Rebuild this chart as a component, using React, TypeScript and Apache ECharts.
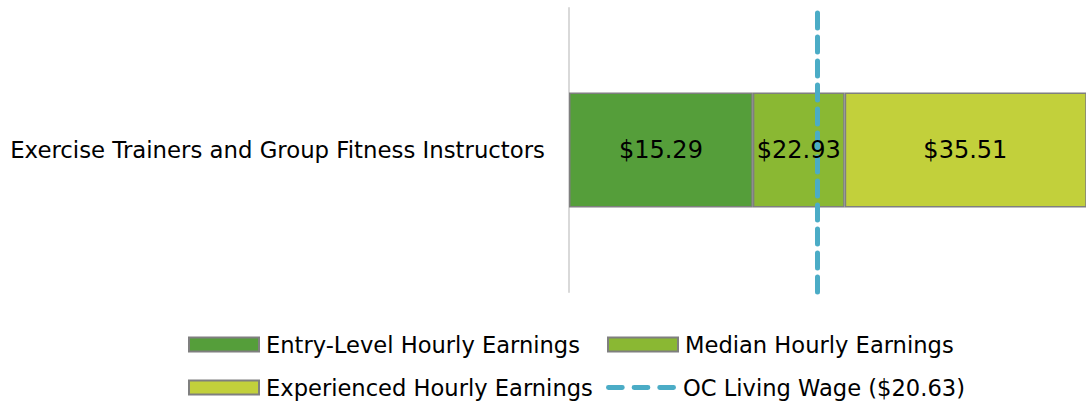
import React, { useEffect, useRef } from "react";
import * as echarts from "echarts";

const categories = ["Exercise Trainers and Group Fitness Instructors"];
const entryLevel = [15.29];
const median = [22.93];
const experienced = [35.51];
const livingWage = 20.63;
const seriesNames = [
  "Entry-Level Hourly Earnings",
  "Median Hourly Earnings",
  "Experienced Hourly Earnings",
  "OC Living Wage ($20.63)",
];
const colors = ["#559e3a", "#8ab833", "#c2d03b", "#4bacc6"];

const FONT = "DejaVu Sans";
const dashIcon =
  "path://M2.5 0h14a2.5 2.5 0 0 1 0 5h-14a2.5 2.5 0 0 1 0-5z" +
  "M28.5 0h14a2.5 2.5 0 0 1 0 5h-14a2.5 2.5 0 0 1 0-5z" +
  "M54.5 0h14a2.5 2.5 0 0 1 0 5h-14a2.5 2.5 0 0 1 0-5z";

export default function App() {
  const ref = useRef<HTMLDivElement>(null);
  useEffect(() => {
    if (!ref.current) return;
    const chart = echarts.init(ref.current, null, { renderer: "svg" });
    const money = (arr: number[]) => (p: any) => "$" + arr[p.dataIndex].toFixed(2);
    const segments = [
      entryLevel,
      median.map((v, i) => +(v - entryLevel[i]).toFixed(2)),
      experienced.map((v, i) => +(v - entryLevel[i]).toFixed(2)),
    ];
    const labelArrays = [entryLevel, median, experienced];
    const bars = segments.map((seg, k) => ({
      type: "bar",
      stack: "total",
      barWidth: "40.5%",
      name: seriesNames[k],
      data: seg,
      z: 2,
      itemStyle: { color: colors[k], borderColor: "#7f7f7f", borderWidth: 1.5 },
      label: { show: false },
    }));
    const labelBars = segments.map((seg, k) => ({
      type: "bar",
      stack: "labels",
      barWidth: "40.5%",
      barGap: "-100%",
      name: "lbl" + k,
      data: seg,
      z: 5,
      silent: true,
      itemStyle: { color: "rgba(0,0,0,0)", borderWidth: 0 },
      label: {
        show: true,
        position: "inside",
        color: "#000",
        fontFamily: FONT,
        fontSize: 24,
        formatter: money(labelArrays[k]),
      },
    }));
    const legendBase = {
      itemWidth: 70,
      itemHeight: 14,
      itemGap: 0,
      padding: 0,
      icon: "rect",
      textStyle: { fontFamily: FONT, fontSize: 22.6, color: "#000", padding: [0, 0, 0, 2] },
    };
    chart.setOption({
      animation: false,
      grid: { left: 569, right: 0, top: 8, bottom: 117, containLabel: false },
      xAxis: {
        type: "value",
        min: 0,
        max: 43,
        show: false,
        splitLine: { show: false },
      },
      yAxis: {
        type: "category",
        data: categories,
        axisLine: { show: true, lineStyle: { color: "#d9d9d9", width: 2 } },
        axisTick: { show: false },
        axisLabel: { fontFamily: FONT, fontSize: 22.8, color: "#000", margin: 24 },
      },
      legend: [
        { ...legendBase, left: 188, top: 333, data: [seriesNames[0]] },
        { ...legendBase, left: 607, top: 333, data: [seriesNames[1]] },
        { ...legendBase, left: 188, top: 376, data: [seriesNames[2]] },
        {
          ...legendBase,
          left: 606,
          top: 376,
          itemHeight: 5,
          data: [{ name: seriesNames[3], icon: dashIcon }],
        },
      ],
      series: [
        ...bars,
        {
          type: "line",
          name: seriesNames[3],
          data: [],
          symbol: "none",
          z: 3,
          color: colors[3],
          itemStyle: { color: colors[3] },
          lineStyle: { color: colors[3], width: 5, type: [15, 9], cap: "round" },
          markLine: {
            silent: true,
            symbol: "none",
            label: { show: false },
            lineStyle: { color: colors[3], width: 5, type: [15, 9], cap: "round" },
            data: [{ xAxis: livingWage }],
          },
        },
        ...labelBars,
      ],
    });
    return () => chart.dispose();
  }, []);
  return <div ref={ref} style={{ width: 1086, height: 409, position: "absolute", left: 0, top: 0 }} />;
}
